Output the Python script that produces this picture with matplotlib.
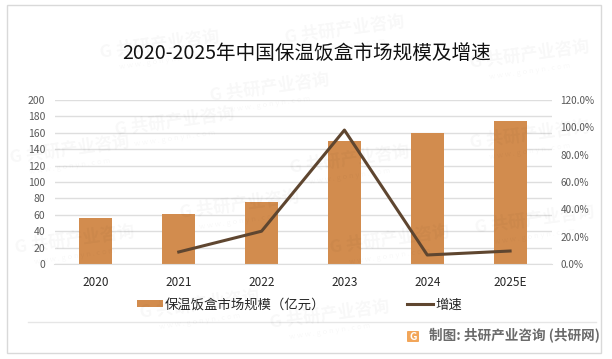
import matplotlib
matplotlib.use("Agg")
import matplotlib.pyplot as plt
from matplotlib.patches import Rectangle, FancyBboxPatch
from matplotlib.lines import Line2D

plt.rcParams['font.family'] = ['Noto Sans CJK SC', 'DejaVu Sans']

years = ["2020", "2021", "2022", "2023", "2024", "2025E"]
market_size = [56, 61, 75.5, 150, 160, 174]
growth_years = [1, 2, 3, 4, 5]
growth_rate = [8.8, 24, 98, 6.6, 9.5]
left_ticks = [0, 20, 40, 60, 80, 100, 120, 140, 160, 180, 200]
right_ticks = [0, 20, 40, 60, 80, 100, 120]

W, H = 612, 359
bar_color = "#D28C4E"
line_color = "#5F4630"
grid_color = "#DEDEDE"
label_color = "#595959"


def px_x(x):
    return x / W


def px_y(y):
    return 1 - y / H


fig = plt.figure(figsize=(W / 100, H / 100), dpi=100, facecolor="white")

# outer frame
fig.add_artist(Rectangle((px_x(6.5), px_y(353)), 594 / W, 348 / H, transform=fig.transFigure,
                         fill=False, edgecolor="#D9D9D9", linewidth=1))

# watermarks
marks = [(160, 45), (175, 122), (240, 205), (70, 150), (75, 240), (345, 30), (270, 88),
         (350, 160), (200, 305), (390, 240), (330, 315), (530, 55), (530, 135), (535, 220)]
for mx, my in marks:
    fig.text(px_x(mx), px_y(my), "G 共研产业咨询", fontsize=12.5, fontweight="bold", color="#000000",
             alpha=0.03, rotation=8, ha="center", va="center")
    fig.text(px_x(mx), px_y(my + 16), "w w w . g o n y n . c o m", fontsize=5.5, color="#000000",
             alpha=0.03, rotation=8, ha="center", va="center")

ax = fig.add_axes([px_x(54.5), px_y(264), 497 / W, 164 / H])
ax.patch.set_alpha(0)
x = list(range(len(years)))
ax.bar(x, market_size, width=0.4, color=bar_color, zorder=2)
ax.set_xlim(-0.5, 5.5)
ax.set_ylim(0, 200)
ax.set_yticks(left_ticks)
ax.set_xticks(x)
ax.set_xticklabels(years)
ax.grid(axis="y", color=grid_color, linewidth=1, zorder=0)
ax.set_axisbelow(True)
ax.tick_params(axis="y", length=0, labelsize=7.5, labelcolor=label_color, pad=6.8)
ax.tick_params(axis="x", length=0, labelsize=8.5, labelcolor="#262626", pad=9)
for s in ["top", "left", "right"]:
    ax.spines[s].set_visible(False)
ax.spines["bottom"].set_color(grid_color)

ax2 = ax.twinx()
ax2.plot(growth_years, growth_rate, color=line_color, linewidth=2.2, zorder=3)
ax2.set_ylim(0, 120)
ax2.set_yticks(right_ticks)
ax2.set_yticklabels([f"{t:.1f}%" for t in right_ticks])
ax2.tick_params(axis="y", length=0, labelsize=7.2, labelcolor=label_color, pad=6.5)
for s in ["top", "left", "right", "bottom"]:
    ax2.spines[s].set_visible(False)

fig.text(px_x(307), px_y(53), "2020-2025年中国保温饭盒市场规模及增速", fontsize=14.1, color="#111111",
         ha="center", va="center")

# legend
fig.add_artist(Rectangle((px_x(137), px_y(307)), 26 / W, 7 / H, transform=fig.transFigure,
                         facecolor=bar_color, edgecolor="none"))
fig.text(px_x(165), px_y(304.5), "保温饭盒市场规模（亿元）", fontsize=9.6, color="#262626", va="center")
fig.add_artist(Line2D([px_x(407), px_x(433)], [px_y(304), px_y(304)], transform=fig.transFigure,
                      color=line_color, linewidth=2.2))
fig.text(px_x(435), px_y(304.5), "增速", fontsize=9.6, color="#262626", va="center")

# footer
fig.add_artist(Line2D([px_x(28), px_x(596)], [px_y(321.5), px_y(321.5)], transform=fig.transFigure,
                      color="#E6E6E6", linewidth=1))
fig.add_artist(FancyBboxPatch((px_x(407), px_y(342)), 12 / W, 11 / H, transform=fig.transFigure,
                              boxstyle="round,pad=0,rounding_size=0.002", facecolor="#F2A65A", edgecolor="none"))
fig.text(px_x(413), px_y(336.5), "G", fontsize=7.5, fontweight="bold", color="white", ha="center", va="center")
fig.text(px_x(429), px_y(335), "制图: 共研产业咨询 (共研网)", fontsize=9.8, fontweight="bold", color="#6A6A6A", va="center")

fig.savefig("out.png", dpi=100)
plt.close(fig)
